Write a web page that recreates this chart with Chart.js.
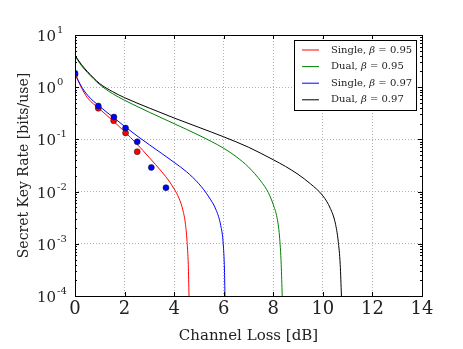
<!DOCTYPE html>
<html>
<head>
<meta charset="utf-8">
<script src="https://cdn.jsdelivr.net/npm/chart.js@4"></script>
<style>
  html,body{margin:0;padding:0;background:#fff;}
  #wrap{width:463px;height:349px;}
</style>
</head>
<body>
<div id="wrap"><canvas id="skr"></canvas></div>
<script>
// curve samples (x = channel loss dB, y = key rate bits/use)
const singleLo_x = [0, 0.25, 0.5, 1.0, 1.5, 2.0, 2.5, 3.0, 3.5, 3.8, 4.0, 4.2, 4.35, 4.45, 4.52, 4.57, 4.6];
const singleLo_y = [1.80, 1.0, 0.63, 0.38, 0.234, 0.141, 0.0813, 0.0447, 0.024, 0.0158, 0.0112, 0.0074, 0.00447, 0.00251, 0.00112, 0.0004, 0.0001];

const dualLo_x = [0, 0.25, 0.5, 1.0, 1.5, 2.0, 3.0, 4.0, 5.0, 6.0, 6.5, 7.0, 7.5, 7.8, 8.0, 8.15, 8.25, 8.32, 8.36];
const dualLo_y = [3.98, 2.63, 1.91, 1.12, 0.759, 0.562, 0.331, 0.20, 0.12, 0.0676, 0.0468, 0.0295, 0.0158, 0.00955, 0.00562, 0.00316, 0.00141, 0.0004, 0.0001];

const singleHi_x = [0, 0.25, 0.5, 1.0, 1.5, 2.0, 2.5, 3.0, 3.5, 4.0, 4.5, 5.0, 5.4, 5.7, 5.88, 5.98, 6.03, 6.05];
const singleHi_y = [1.80, 1.05, 0.708, 0.427, 0.275, 0.178, 0.117, 0.079, 0.0537, 0.0363, 0.024, 0.0141, 0.0079, 0.00437, 0.00224, 0.001, 0.000316, 0.0001];

const dualHi_x = [0, 0.25, 0.5, 1.0, 1.5, 2.0, 3.0, 4.0, 5.0, 6.0, 7.0, 8.0, 8.5, 9.0, 9.5, 10.0, 10.3, 10.5, 10.62, 10.7, 10.75];
const dualHi_y = [4.07, 2.75, 2.0, 1.17, 0.83, 0.63, 0.398, 0.257, 0.17, 0.112, 0.0708, 0.0407, 0.0302, 0.0214, 0.0141, 0.0083, 0.00479, 0.00251, 0.00112, 0.0004, 0.0001];

// measured points
const redDots_x = [0, 0.94, 1.56, 2.04, 2.51];
const redDots_y = [1.75, 0.394, 0.228, 0.133, 0.058];
const blueDots_x = [0, 0.94, 1.57, 2.04, 2.51, 3.08, 3.67];
const blueDots_y = [1.85, 0.436, 0.268, 0.165, 0.090, 0.029, 0.0119];

const xTicks = [0, 2, 4, 6, 8, 10, 12, 14];
const yExps = [-4, -3, -2, -1, 0, 1];

const FONT = "'DejaVu Serif', 'Liberation Serif', serif";

function pts(xs, ys){ return xs.map((x,i)=>({x:x, y:ys[i]})); }

function line(label, xs, ys, color, order){
  return {type:'line', label:label, data:pts(xs,ys), borderColor:color, backgroundColor:color,
    borderWidth:1, pointRadius:0, cubicInterpolationMode:'monotone', fill:false, order:order};
}
function dots(xs, ys, color, order){
  return {type:'scatter', label:'', data:pts(xs,ys), backgroundColor:color, borderColor:'#111',
    borderWidth:0.5, pointRadius:3, order:order, inLegend:false};
}

// frame, inward ticks, superscript y labels and the boxed legend
const decor = {
  id:'decor',
  afterDraw(chart){
    const ctx = chart.ctx, a = chart.chartArea;
    const xs = chart.scales.x, ys = chart.scales.y;
    ctx.save();
    ctx.strokeStyle = '#000';
    ctx.lineWidth = 1;
    ctx.strokeRect(a.left+0.5, a.top+0.5, a.right-a.left, a.bottom-a.top);

    ctx.beginPath();
    xTicks.forEach(v=>{
      const px = Math.round(xs.getPixelForValue(v))+0.5;
      ctx.moveTo(px, a.bottom); ctx.lineTo(px, a.bottom-4);
      ctx.moveTo(px, a.top); ctx.lineTo(px, a.top+4);
    });
    yExps.forEach(e=>{
      const py = Math.round(ys.getPixelForValue(Math.pow(10,e)))+0.5;
      ctx.moveTo(a.left, py); ctx.lineTo(a.left+4, py);
      ctx.moveTo(a.right, py); ctx.lineTo(a.right-4, py);
      if (e < 1) {
        for (let m=2; m<10; m++){
          const pm = Math.round(ys.getPixelForValue(m*Math.pow(10,e)))+0.5;
          ctx.moveTo(a.left, pm); ctx.lineTo(a.left+2, pm);
          ctx.moveTo(a.right, pm); ctx.lineTo(a.right-2, pm);
        }
      }
    });
    ctx.stroke();

    // y tick labels 10^n
    ctx.fillStyle = '#222';
    yExps.forEach(e=>{
      const py = ys.getPixelForValue(Math.pow(10,e));
      ctx.font = '15px ' + FONT;
      ctx.textAlign = 'right'; ctx.textBaseline = 'alphabetic';
      ctx.fillText('10', a.left-19, py+6);
      ctx.font = '10px ' + FONT;
      ctx.textAlign = 'left';
      ctx.fillText(String(e), a.left-18, py-2);
    });

    // legend
    const items = chart.data.datasets.filter(d=>d.inLegend!==false);
    const bx = 294.5, by = 40.5, bw = 122, bh = 70;
    ctx.fillStyle = '#fff';
    ctx.fillRect(bx, by, bw, bh);
    ctx.strokeStyle = '#000';
    ctx.strokeRect(bx, by, bw, bh);
    items.forEach((d,i)=>{
      const yy = 50 + i*16.6;
      ctx.strokeStyle = d.borderColor;
      ctx.beginPath(); ctx.moveTo(302, yy); ctx.lineTo(319, yy); ctx.stroke();
      const parts = d.label.split('β');
      ctx.fillStyle = '#222';
      ctx.textAlign = 'left'; ctx.textBaseline = 'middle';
      let tx = 331;
      ctx.font = '10px ' + FONT;
      ctx.fillText(parts[0], tx, yy); tx += ctx.measureText(parts[0]).width;
      ctx.font = 'italic 10px ' + FONT;
      ctx.fillText('β', tx, yy); tx += ctx.measureText('β').width;
      ctx.font = '10px ' + FONT;
      ctx.fillText(parts[1], tx, yy);
    });
    ctx.restore();
  }
};

new Chart(document.getElementById('skr'), {
  data:{ datasets:[
    line('Single, β = 0.95', singleLo_x, singleLo_y, '#ff0000', 5),
    line('Dual, β = 0.95', dualLo_x, dualLo_y, '#008000', 4),
    line('Single, β = 0.97', singleHi_x, singleHi_y, '#0000ff', 3),
    line('Dual, β = 0.97', dualHi_x, dualHi_y, '#000000', 2),
    dots(redDots_x, redDots_y, '#ff0000', 1),
    dots(blueDots_x, blueDots_y, '#0000ff', 0),
  ]},
  options:{ responsive:true, maintainAspectRatio:false, animation:false,
    layout:{ padding:{ top:35, right:41, left:0, bottom:0 } },
    plugins:{ legend:{display:false}, tooltip:{enabled:false} },
    scales:{
      x:{ type:'linear', min:0, max:14,
        afterBuildTicks:(s)=>{ s.ticks = xTicks.map(v=>({value:v})); },
        afterFit:(s)=>{ s.height = 53; },
        ticks:{ font:{family:FONT, size:18}, color:'#222', padding:3, maxRotation:0 },
        grid:{ color:'#b0b0b0', drawTicks:false },
        border:{ display:false, dash:[1,2] },
        title:{ display:true, text:'Channel Loss [dB]', font:{family:FONT, size:15}, color:'#222', padding:{top:0,bottom:4} }
      },
      y:{ type:'logarithmic', min:1e-4, max:10,
        afterBuildTicks:(s)=>{ s.ticks = yExps.map(e=>({value:Math.pow(10,e)})); },
        afterFit:(s)=>{ s.width = 75; },
        ticks:{ display:false },
        grid:{ color:'#b0b0b0', drawTicks:false },
        border:{ display:false, dash:[1,2] },
        title:{ display:true, text:'Secret Key Rate [bits/use]', font:{family:FONT, size:14}, color:'#222', padding:{top:16,bottom:0} }
      }
    }
  },
  plugins:[decor]
});
</script>
</body>
</html>
